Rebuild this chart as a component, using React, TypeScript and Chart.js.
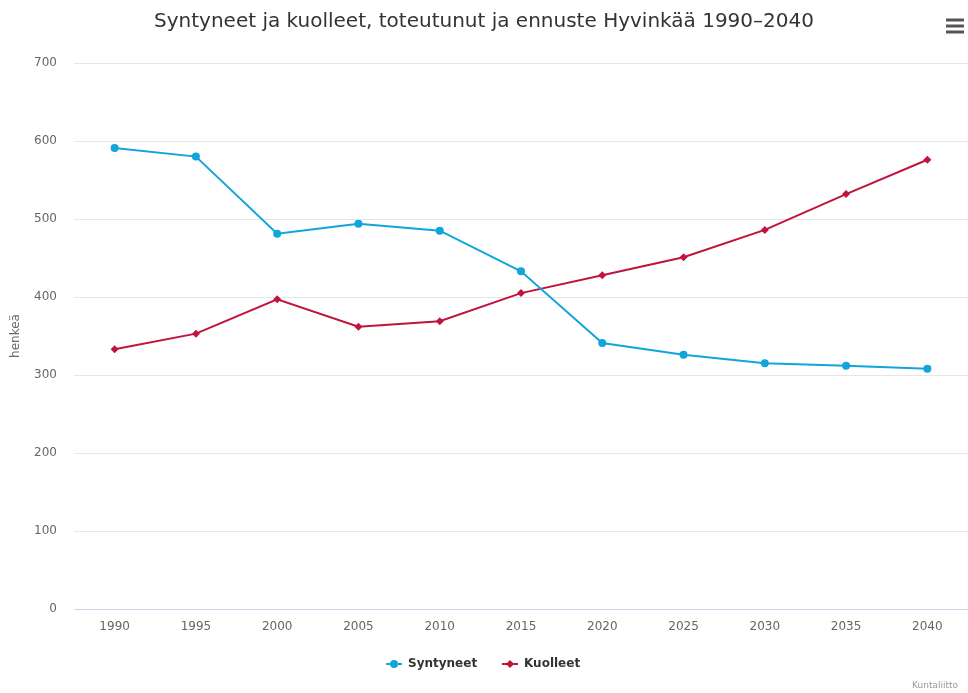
import React, { useEffect, useRef } from "react";
import { Chart, registerables } from "chart.js";

Chart.register(...registerables);

const years = ["1990", "1995", "2000", "2005", "2010", "2015", "2020", "2025", "2030", "2035", "2040"];
const syntyneet = [591, 580, 481, 494, 485, 433, 341, 326, 315, 312, 308];
const kuolleet = [333, 353, 397, 362, 369, 405, 428, 451, 486, 532, 576];
const yTicks = [0, 100, 200, 300, 400, 500, 600, 700];

const titleText = "Syntyneet ja kuolleet, toteutunut ja ennuste Hyvinkää 1990–2040";
const yTitle = "henkeä";
const credit = "Kuntaliitto";
const blue = "#12a5d9";
const red = "#c0143c";
const FONT = "'DejaVu Sans', 'Open Sans', sans-serif";

const decorPlugin = {
  id: "decor",
  afterDraw(chart: any) {
    const ctx = chart.ctx as CanvasRenderingContext2D;
    ctx.save();
    // title
    ctx.fillStyle = "#333333";
    ctx.font = `20px ${FONT}`;
    ctx.textAlign = "center";
    ctx.textBaseline = "middle";
    ctx.fillText(titleText, 484, 22);
    // hamburger
    ctx.strokeStyle = "#555555";
    ctx.lineWidth = 3;
    for (let i = 0; i < 3; i++) {
      const y = 20 + i * 6;
      ctx.beginPath();
      ctx.moveTo(946, y);
      ctx.lineTo(964, y);
      ctx.stroke();
    }
    // y title
    ctx.fillStyle = "#666666";
    ctx.font = `12px ${FONT}`;
    ctx.translate(16, 336);
    ctx.rotate(-Math.PI / 2);
    ctx.fillText(yTitle, 0, 0);
    ctx.setTransform(1, 0, 0, 1, 0, 0);
    // legend
    const items = [
      { label: "Syntyneet", color: blue, shape: "circle", x: 386 },
      { label: "Kuolleet", color: red, shape: "diamond", x: 502 },
    ];
    const ly = 664;
    ctx.font = `bold 12px ${FONT}`;
    ctx.textAlign = "left";
    for (const it of items) {
      ctx.strokeStyle = it.color;
      ctx.fillStyle = it.color;
      ctx.lineWidth = 2;
      ctx.beginPath();
      ctx.moveTo(it.x, ly);
      ctx.lineTo(it.x + 16, ly);
      ctx.stroke();
      const cx = it.x + 8;
      ctx.beginPath();
      if (it.shape === "circle") {
        ctx.arc(cx, ly, 4, 0, Math.PI * 2);
      } else {
        ctx.moveTo(cx, ly - 4);
        ctx.lineTo(cx + 4, ly);
        ctx.lineTo(cx, ly + 4);
        ctx.lineTo(cx - 4, ly);
        ctx.closePath();
      }
      ctx.fill();
      ctx.fillStyle = "#333333";
      ctx.fillText(it.label, it.x + 22, ly);
    }
    // credit
    ctx.fillStyle = "#999999";
    ctx.font = `9px ${FONT}`;
    ctx.textAlign = "right";
    ctx.fillText(credit, 958, 686);
    ctx.restore();
  },
};

export default function App() {
  const ref = useRef<HTMLCanvasElement>(null);
  useEffect(() => {
    const prevMargin = document.body.style.margin;
    document.body.style.margin = "0";
    const chart = new Chart(ref.current!, {
      type: "line",
      data: {
        labels: years,
        datasets: [
          {
            label: "Syntyneet",
            data: syntyneet,
            borderColor: blue,
            backgroundColor: blue,
            borderWidth: 2,
            pointStyle: "circle",
            pointRadius: 4,
            pointBorderWidth: 0,
            tension: 0,
          },
          {
            label: "Kuolleet",
            data: kuolleet,
            borderColor: red,
            backgroundColor: red,
            borderWidth: 2,
            pointStyle: "rectRot",
            pointRadius: 4,
            pointBorderWidth: 0,
            tension: 0,
          },
        ],
      },
      options: {
        animation: false,
        responsive: false,
        maintainAspectRatio: false,
        layout: { autoPadding: false, padding: { top: 63, bottom: 54, left: 0, right: 0 } },
        plugins: {
          legend: { display: false },
          title: { display: false },
          tooltip: { enabled: false },
        },
        scales: {
          x: {
            offset: true,
            grid: { display: false, drawTicks: false },
            border: { display: true, color: "#ccd6eb", width: 1 },
            ticks: { color: "#666666", font: { family: FONT, size: 12 }, padding: 11, maxRotation: 0 },
            afterFit: (s: any) => { s.height = 30; s.paddingLeft = 0; s.paddingRight = 0; },
          },
          y: {
            min: 0,
            max: 700,
            afterBuildTicks: (s: any) => { s.ticks = yTicks.map((v) => ({ value: v })); },
            grid: { color: "#e6e6e6", drawTicks: false },
            border: { display: false },
            ticks: { color: "#666666", font: { family: FONT, size: 12 }, padding: 17 },
            afterFit: (s: any) => { s.width = 74; },
          },
        },
      },
      plugins: [decorPlugin],
    });
    return () => {
      chart.destroy();
      document.body.style.margin = prevMargin;
    };
  }, []);
  return (
    <div style={{ position: "absolute", left: 0, top: 0, width: 968, height: 693, background: "#fff" }}>
      <canvas ref={ref} width={968} height={693} style={{ width: 968, height: 693 }} />
    </div>
  );
}
